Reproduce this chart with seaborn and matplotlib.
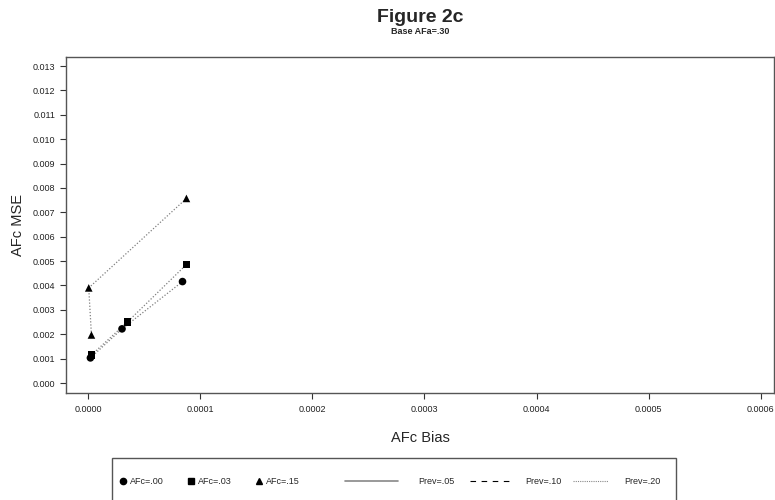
import pandas as pd
import seaborn as sns
import matplotlib.pyplot as plt
from matplotlib.lines import Line2D
from matplotlib.patches import Rectangle

# values
afc_groups = ["AFc=.00", "AFc=.03", "AFc=.15"]
bias_00 = [0.0000018, 0.0000300, 0.0000840]
mse_00 = [0.00103, 0.00222, 0.00416]
bias_03 = [0.0000027, 0.0000350, 0.0000875]
mse_03 = [0.00115, 0.00251, 0.00486]
bias_15 = [0.0000027, 0.0000003, 0.0000875]
mse_15 = [0.00197, 0.00390, 0.00757]
prev_labels = ["Prev=.05", "Prev=.10", "Prev=.20"]
x_ticks = [0.0000, 0.0001, 0.0002, 0.0003, 0.0004, 0.0005, 0.0006]
y_ticks = [i / 1000 for i in range(14)]

rows = []
for g, xs, ys in zip(afc_groups, [bias_00, bias_03, bias_15], [mse_00, mse_03, mse_15]):
    for i, (x, y) in enumerate(zip(xs, ys)):
        rows.append({"AFc": g, "Bias": x, "MSE": y, "order": i})
df = pd.DataFrame(rows)

sns.set_style("white")
plt.rcParams["font.family"] = ["Liberation Sans", "DejaVu Sans"]

fig = plt.figure(figsize=(7.75, 5), dpi=100)
ax = fig.add_axes([66 / 775, 1 - 393 / 500, 708 / 775, 336 / 500])

markers = {"AFc=.00": "o", "AFc=.03": "s", "AFc=.15": "^"}

sns.lineplot(data=df, x="Bias", y="MSE", units="AFc", estimator=None, sort=False,
             color="#808080", linestyle=(0, (1, 1.5)), linewidth=0.9, ax=ax, legend=False)
sns.scatterplot(data=df, x="Bias", y="MSE", style="AFc", markers=markers,
                color="black", s=30, edgecolor="black", linewidth=0, ax=ax, legend=False,
                zorder=3)

ax.set_xlim(-0.0000200, 0.000612)
ax.set_ylim(-0.00041, 0.01337)
ax.set_xticks(x_ticks)
ax.set_xticklabels([f"{v:.4f}" for v in x_ticks])
ax.set_yticks(y_ticks)
ax.set_yticklabels([f"{v:.3f}" for v in y_ticks])
ax.tick_params(axis="both", direction="out", length=4, width=0.8, color="#333333",
               labelsize=6.5, labelcolor="#222222", left=True, bottom=True)
ax.tick_params(axis="x", pad=5)
for s in ax.spines.values():
    s.set_color("#555555")
    s.set_linewidth(1.0)

ax.set_xlabel("AFc Bias", fontsize=10.5, labelpad=12)
ax.set_ylabel("AFc MSE", fontsize=10.5, labelpad=6)

fig.text(420 / 775, 1 - 18 / 500, "Figure 2c", ha="center", va="center",
         fontsize=14, fontweight="bold")
fig.text(420 / 775, 1 - 32 / 500, "Base AFa=.30", ha="center", va="center",
         fontsize=6.5, fontweight="bold")

# legend frame, runs past the bottom edge like the reference
fig.patches.append(Rectangle((112 / 775, 1 - 510 / 500), 564 / 775, 52 / 500,
                             transform=fig.transFigure, fill=False,
                             edgecolor="#555555", linewidth=1.0))

marker_handles = [
    Line2D([], [], marker="o", color="black", linestyle="none", markersize=4.5),
    Line2D([], [], marker="s", color="black", linestyle="none", markersize=4.5),
    Line2D([], [], marker="^", color="black", linestyle="none", markersize=4.5),
]
fig.legend(marker_handles, afc_groups, loc="center left", ncol=3,
           bbox_to_anchor=(119 / 775, 1 - 482 / 500), fontsize=6.5,
           frameon=False, handlelength=0.8, handletextpad=0.4,
           columnspacing=2.6, borderpad=0, borderaxespad=0)

# the three line entries sit at uneven spacing in the reference
line_styles = [("-", "#888888", 1.2), ((0, (5, 5)), "black", 0.8), ((0, (1, 1)), "#888888", 0.8)]
line_x = [345, 470, 573]
line_len = [5.9, 4.4, 3.9]
line_pad = [2.2, 1.7, 1.8]
for lab, (ls, c, lw), x0, hl, hp in zip(prev_labels, line_styles, line_x, line_len, line_pad):
    h = Line2D([], [], color=c, linestyle=ls, linewidth=lw)
    fig.legend([h], [lab], loc="center left",
               bbox_to_anchor=(x0 / 775, 1 - 482 / 500), fontsize=6.5,
               frameon=False, handlelength=hl, handletextpad=hp,
               borderpad=0, borderaxespad=0)

fig.savefig("out.png", dpi=100)
